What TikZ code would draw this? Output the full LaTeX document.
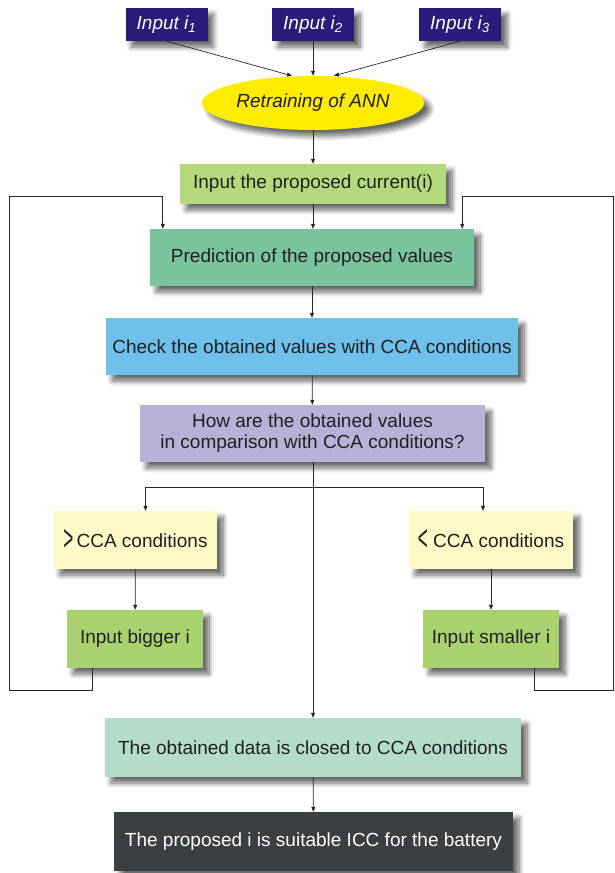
\documentclass[tikz,border=0pt]{standalone}
\usepackage{fontspec}
\setmainfont{Liberation Sans}
\usetikzlibrary{arrows.meta,shapes.geometric,shadows.blur}
\definecolor{inputnavy}{RGB}{42,28,122}
\definecolor{annyellow}{RGB}{255,236,0}
\definecolor{curgreen}{RGB}{180,217,124}
\definecolor{predgreen}{RGB}{122,196,157}
\definecolor{checkblue}{RGB}{110,192,234}
\definecolor{lavender}{RGB}{184,176,214}
\definecolor{paleyellow}{RGB}{255,249,200}
\definecolor{leafgreen}{RGB}{167,210,110}
\definecolor{mintgreen}{RGB}{179,221,200}
\definecolor{darkslate}{RGB}{60,63,66}
\newcommand{\chev}[1]{\raisebox{-3pt}{\scalebox{0.9}[1.9]{#1}}}

\begin{document}
\begin{tikzpicture}[x=1pt, y=-1pt, >={Triangle[length=5pt,width=4pt]},
  box/.style={rectangle, inner sep=2pt, align=center, text=black!88,
    font=\fontsize{19}{21}\selectfont,
    blur shadow={shadow xshift=6pt, shadow yshift=-6pt, shadow blur steps=8,
      shadow blur radius=5pt, shadow opacity=60}},
  inbox/.style={box, fill=inputnavy, text=white, minimum width=82pt,
    minimum height=33pt, font=\itshape\fontsize{19}{21}\selectfont},
  link/.style={->, black!85, line width=0.7pt}]
  \useasboundingbox (0,0) rectangle (614,873);

  % Inputs and retraining
  \node[inbox] (in1) at (166.5,24.5) {Input i\textsubscript{1}};
  \node[inbox] (in2) at (313,24.5) {Input i\textsubscript{2}};
  \node[inbox] (in3) at (460,24.5) {Input i\textsubscript{3}};
  \node[box, ellipse, fill=annyellow, minimum width=222pt, minimum height=54pt,
    font=\itshape\fontsize{19}{21}\selectfont] (ann) at (313,103)
    {Retraining of ANN};

  % Main column
  \node[box, fill=curgreen, minimum width=266pt, minimum height=40pt]
    (cur) at (313,184) {Input the proposed current(i)};
  \node[box, fill=predgreen, minimum width=324pt, minimum height=57pt]
    (pred) at (312,257.5) {Prediction of the proposed values};
  \node[box, fill=checkblue, minimum width=412pt, minimum height=57pt]
    (chk) at (312,346.5) {Check the obtained values with CCA conditions};
  \node[box, fill=lavender, minimum width=345pt, minimum height=57pt]
    (how) at (312.5,433.5)
    {How are the obtained values\\in comparison with CCA conditions?};

  % Two branches
  \node[box, fill=paleyellow, minimum width=163pt, minimum height=58pt]
    (gt) at (135.5,540) {\chev{>}\,CCA conditions};
  \node[box, fill=leafgreen, minimum width=136pt, minimum height=58pt]
    (inb) at (135,639) {Input bigger i};
  \node[box, fill=paleyellow, minimum width=164pt, minimum height=58pt]
    (lt) at (491,540) {\chev{<}\;CCA conditions};
  \node[box, fill=leafgreen, minimum width=136pt, minimum height=58pt]
    (ins) at (491,639) {Input smaller i};

  % Result
  \node[box, fill=mintgreen, minimum width=416pt, minimum height=59pt]
    (obt) at (313,747.5) {The obtained data is closed to CCA conditions};
  \node[box, fill=darkslate, text=white, minimum width=399pt, minimum height=59pt]
    (fin) at (313.5,841.5) {The proposed i is suitable ICC for the battery};

  % Loop corners
  \coordinate (fork) at (313,487);
  \coordinate (lbot) at (9,690);
  \coordinate (ltop) at (9,196);
  \coordinate (rbot) at (613,690);
  \coordinate (rtop) at (613,196);

  % Connectors
  \draw[link] (in1.south) -- ([xshift=-21pt]ann.north);
  \draw[link] (in2.south) -- (ann.north);
  \draw[link] (in3.south) -- ([xshift=21pt]ann.north);
  \draw[link] (ann) -- (cur);
  \draw[link] (cur) -- (cur |- pred.north);
  \draw[link] (pred) -- (chk);
  \draw[link] (chk) -- (how);
  \draw[link] (how.south -| obt) -- (obt);
  \draw[link] (obt) -- (fin);
  \draw[link] (fork) -| ([xshift=10pt]gt.north);
  \draw[link] (fork) -| ([xshift=-8pt]lt.north);
  \draw[link] (gt) -- (inb);
  \draw[link] (lt) -- (ins);
  \draw[link] ([xshift=-43pt]inb.south) |- (lbot) -- (ltop)
    -| ([xshift=13pt]pred.north west);
  \draw[link] ([xshift=43pt]ins.south) |- (rbot) -- (rtop)
    -| ([xshift=-12pt]pred.north east);
\end{tikzpicture}
\end{document}
